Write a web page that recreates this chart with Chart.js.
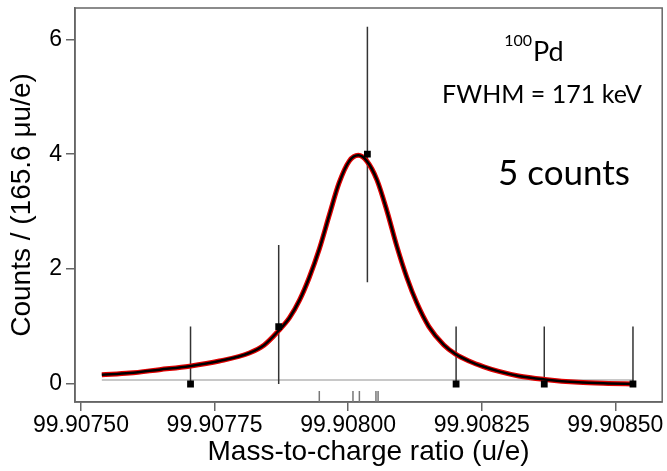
<!DOCTYPE html>
<html>
<head>
<meta charset="utf-8">
<script src="https://cdn.jsdelivr.net/npm/chart.js@4.4.1/dist/chart.umd.min.js"></script>
<style>
  html, body { margin: 0; padding: 0; background: #fff; }
  #massChart { display: block; }
</style>
</head>
<body>
<canvas id="massChart" width="667" height="471"></canvas>
<script>
// histogram bins (u/e) and counts per bin
var binCenters = [99.907705, 99.907870, 99.908036, 99.908202, 99.908367, 99.908533];
var counts = [0, 1, 4, 0, 0, 0];
var errLow = [0, 0, 1.77, 0, 0, 0];
var errHigh = [1, 2.42, 6.22, 1, 1, 1];

// fitted line shape
var fitX = [99.907539, 99.907591, 99.907647, 99.907703, 99.907759, 99.907815, 99.907843,
            99.907869, 99.907890, 99.907909, 99.907927, 99.907946, 99.907965, 99.907983,
            99.908002, 99.908019, 99.908035, 99.908054, 99.908073, 99.908091, 99.908110,
            99.908129, 99.908151, 99.908179, 99.908201, 99.908226, 99.908254, 99.908282,
            99.908319, 99.908368, 99.908431, 99.908487, 99.908534];
var fitY = [0.16, 0.19, 0.25, 0.31, 0.40, 0.54, 0.68,
            0.92, 1.15, 1.46, 1.85, 2.35, 2.95, 3.50,
            3.88, 3.98, 3.88, 3.55, 3.00, 2.40, 1.85,
            1.40, 1.00, 0.68, 0.52, 0.40, 0.30, 0.22,
            0.14, 0.08, 0.03, 0.01, 0.0];

// single events (rug marks)
var eventX = [99.907946, 99.908009, 99.908021, 99.908052, 99.908056];
var baselineLevel = 0.07;

var xTicks = [99.90750, 99.90775, 99.90800, 99.90825, 99.90850];
var yTicks = [0, 2, 4, 6];
var xMin = 99.9074888, xMax = 99.9085877;
var yMin = -0.313, yMax = 6.545;

var axisFont = "'Liberation Sans', Arial, sans-serif";
var noteFont = "Lato, 'Open Sans', sans-serif";
var frameColor = '#666666';

var points = [];
var errData = [];
for (var i = 0; i < binCenters.length; i++) {
    points.push({x: binCenters[i], y: counts[i]});
    errData.push({x: binCenters[i], y: errLow[i]});
    errData.push({x: binCenters[i], y: errHigh[i]});
    errData.push({x: binCenters[i], y: null});
}

var fitData = [];
for (var i = 0; i < fitX.length; i++) {
    fitData.push({x: fitX[i], y: fitY[i]});
}

var rugData = [];
for (var i = 0; i < eventX.length; i++) {
    rugData.push({x: eventX[i], y: -0.12});
    rugData.push({x: eventX[i], y: yMin});
    rugData.push({x: eventX[i], y: null});
}

var baseData = [{x: fitX[0], y: baselineLevel}, {x: fitX[fitX.length - 1], y: baselineLevel}];

var framePlugin = {
    id: 'frame',
    beforeDatasetsDraw: function(chart) {
        var a = chart.chartArea, c = chart.ctx;
        c.save();
        c.strokeStyle = frameColor;
        c.lineWidth = 1.5;
        c.strokeRect(a.left, a.top, a.right - a.left, a.bottom - a.top);
        c.restore();
    }
};

var notesPlugin = {
    id: 'notes',
    afterDraw: function(chart) {
        var c = chart.ctx;
        c.save();
        c.fillStyle = '#000';
        c.textBaseline = 'alphabetic';
        c.textAlign = 'left';
        c.font = '16px ' + noteFont;
        var supW = c.measureText('100').width;
        c.font = '27px ' + noteFont;
        var pdW = c.measureText('Pd').width;
        var startX = 534 - (supW + pdW + 1) / 2;
        c.font = '16px ' + noteFont;
        c.fillText('100', startX, 46);
        c.font = '27px ' + noteFont;
        c.fillText('Pd', startX + supW + 1, 61);
        c.textAlign = 'center';
        c.font = '25px ' + noteFont;
        c.fillText('FWHM = 171 keV', 542, 103);
        c.font = '35px ' + noteFont;
        c.fillText('5 counts', 564, 185);
        c.restore();
    }
};

var ctx = document.getElementById('massChart');
var massChart = new Chart(ctx, {
    type: 'scatter',
    data: {
        datasets: [{
            label: 'counts',
            data: points,
            pointStyle: 'rect',
            pointRadius: 4.8,
            backgroundColor: '#000',
            borderColor: '#000',
            borderWidth: 0,
            order: 0
        }, {
            label: 'fit',
            data: fitData,
            showLine: true,
            pointRadius: 0,
            borderColor: '#000',
            borderWidth: 2.5,
            tension: 0.4,
            cubicInterpolationMode: 'monotone',
            order: 1
        }, {
            label: 'fit outline',
            data: fitData,
            showLine: true,
            pointRadius: 0,
            borderColor: '#e00000',
            borderWidth: 5,
            tension: 0.4,
            cubicInterpolationMode: 'monotone',
            order: 2
        }, {
            label: 'errors',
            data: errData,
            showLine: true,
            spanGaps: false,
            pointRadius: 0,
            borderColor: '#333333',
            borderWidth: 1.5,
            order: 3
        }, {
            label: 'events',
            data: rugData,
            showLine: true,
            spanGaps: false,
            pointRadius: 0,
            borderColor: '#777777',
            borderWidth: 1.5,
            order: 4
        }, {
            label: 'baseline',
            data: baseData,
            showLine: true,
            pointRadius: 0,
            borderColor: '#c8c8c8',
            borderWidth: 2,
            order: 5
        }]
    },
    options: {
        responsive: false,
        animation: false,
        devicePixelRatio: 1,
        layout: {
            padding: {top: 8, right: 3, left: 0, bottom: 0}
        },
        plugins: {
            legend: {display: false},
            tooltip: {enabled: false}
        },
        scales: {
            x: {
                type: 'linear',
                min: xMin,
                max: xMax,
                grid: {display: true, drawOnChartArea: false, drawTicks: true, tickLength: 9, color: frameColor, lineWidth: 1.5},
                border: {display: true, color: frameColor, width: 1.5},
                ticks: {
                    color: '#000',
                    font: {family: axisFont, size: 23},
                    padding: 1,
                    maxRotation: 0,
                    autoSkip: false,
                    callback: function(v) { return v.toFixed(5); }
                },
                title: {
                    display: true,
                    text: 'Mass-to-charge ratio (u/e)',
                    color: '#000',
                    font: {family: axisFont, size: 28},
                    padding: {top: 0, bottom: 2}
                },
                afterBuildTicks: function(s) {
                    s.ticks = xTicks.map(function(v) { return {value: v}; });
                },
                afterFit: function(s) {
                    s.height = 69;
                    s.paddingLeft = 0;
                    s.paddingRight = 0;
                }
            },
            y: {
                type: 'linear',
                min: yMin,
                max: yMax,
                grid: {display: true, drawOnChartArea: false, drawTicks: true, tickLength: 9, color: frameColor, lineWidth: 1.5},
                border: {display: true, color: frameColor, width: 1.5},
                ticks: {
                    color: '#000',
                    font: {family: axisFont, size: 23},
                    padding: 4,
                    callback: function(v) { return String(v); }
                },
                title: {
                    display: true,
                    text: 'Counts / (165.6 μu/e)',
                    color: '#000',
                    font: {family: axisFont, size: 28},
                    padding: {top: 5, bottom: 0}
                },
                afterBuildTicks: function(s) {
                    s.ticks = yTicks.map(function(v) { return {value: v}; });
                },
                afterFit: function(s) {
                    s.width = 75;
                    s.paddingTop = 0;
                    s.paddingBottom = 0;
                }
            }
        }
    },
    plugins: [framePlugin, notesPlugin]
});
</script>
</body>
</html>
